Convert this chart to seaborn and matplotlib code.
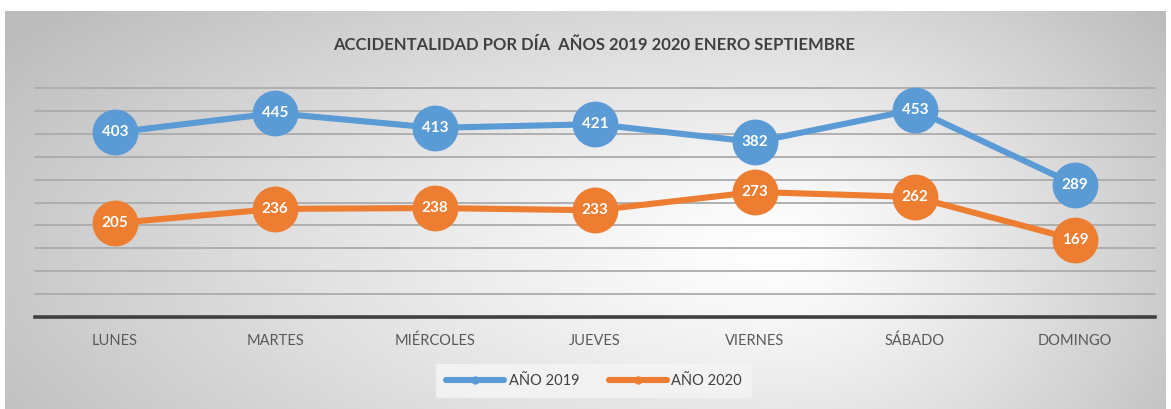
import numpy as np
import pandas as pd
import matplotlib
matplotlib.use("Agg")
import matplotlib.pyplot as plt
from matplotlib.lines import Line2D
import seaborn as sns

dias = ["LUNES", "MARTES", "MIÉRCOLES", "JUEVES", "VIERNES", "SÁBADO", "DOMINGO"]
anio_2019 = [403, 445, 413, 421, 382, 453, 289]
anio_2020 = [205, 236, 238, 233, 273, 262, 169]
series_names = ["AÑO 2019", "AÑO 2020"]
title = "ACCIDENTALIDAD POR DÍA  AÑOS 2019 2020 ENERO SEPTIEMBRE"

colors = {"AÑO 2019": "#5B9BD5", "AÑO 2020": "#ED7D31"}

sns.set_theme(style="white")
plt.rcParams['font.family'] = ['Lato', 'DejaVu Sans']

df = pd.DataFrame({
    "dia": dias * 2,
    "x": list(range(len(dias))) * 2,
    "valor": anio_2019 + anio_2020,
    "serie": [series_names[0]] * len(dias) + [series_names[1]] * len(dias),
})

W, H = 1171, 409
fig = plt.figure(figsize=(W / 100, H / 100), dpi=100)
fig.patch.set_facecolor("white")

# background gradient panel
bx0, by0, bx1, by1 = 5, 11, 1166, 409
bg = fig.add_axes([bx0 / W, 1 - by1 / H, (bx1 - bx0) / W, (by1 - by0) / H], zorder=-5)
xs = np.arange(bx0, bx1)
ys = np.arange(by0, by1)
X, Y = np.meshgrid(xs, ys)
cx, cy = 780, 250
rx = np.where(X < cx, 800.0, 420.0)
ry = 330.0
t = np.sqrt(((X - cx) / rx) ** 2 + ((Y - cy) / ry) ** 2)
t = np.clip(t, 0, 1.15)
v = 1.0 - 0.22 * t ** 1.2
img = np.dstack([v, v, v])
bg.imshow(img, aspect="auto", extent=[0, 1, 0, 1], interpolation="bilinear")
bg.set_axis_off()

# main axes
left, right = 35, 1155
top, bottom = 88, 317
ax = fig.add_axes([left / W, 1 - bottom / H, (right - left) / W, (bottom - top) / H])
ax.patch.set_alpha(0)

for y in range(50, 501, 50):
    ax.axhline(y, color="#ababab", lw=1.3, zorder=0, clip_on=False)

for name in series_names:
    sub = df[df["serie"] == name]
    sns.lineplot(data=sub, x="x", y="valor", ax=ax, color=colors[name],
                 linewidth=4.4, marker="o", markersize=33, markeredgewidth=0,
                 legend=False, zorder=3, clip_on=False)
    for xi, yi in zip(sub["x"], sub["valor"]):
        ax.text(xi, yi, str(yi), color="white", fontsize=11, fontweight="bold",
                ha="center", va="center", zorder=5)

ax.set_xlim(-0.5, len(dias) - 0.5)
ax.set_ylim(0, 500)
ax.set_xticks(range(len(dias)))
ax.set_xticklabels(dias, fontsize=10.5, color="#595959")
ax.tick_params(axis="x", length=0, pad=12)
ax.set_yticks([])
ax.set_xlabel("")
ax.set_ylabel("")
for s in ["top", "right", "left"]:
    ax.spines[s].set_visible(False)
ax.spines["bottom"].set_color("#404040")
ax.spines["bottom"].set_linewidth(2.6)
ax.spines["bottom"].set_zorder(4)

fig.text(594 / W, 1 - 45 / H, title, ha="center", va="center",
         fontsize=12, fontweight="bold", color="#404040")

handles = [Line2D([0], [0], color=colors[n], lw=4.4, marker="o", markersize=6,
                  markeredgewidth=0) for n in series_names]
leg = fig.legend(handles, series_names, loc="center", bbox_to_anchor=(594 / W, 1 - 381 / H),
                 ncol=2, frameon=True, fontsize=10.5, handlelength=4, handletextpad=0.3,
                 columnspacing=2.0, borderpad=0.7)
leg.get_frame().set_facecolor("#f4f4f4")
leg.get_frame().set_edgecolor("none")
leg.get_frame().set_alpha(0.9)
for txt in leg.get_texts():
    txt.set_color("#404040")

fig.savefig("out.png", dpi=100)
